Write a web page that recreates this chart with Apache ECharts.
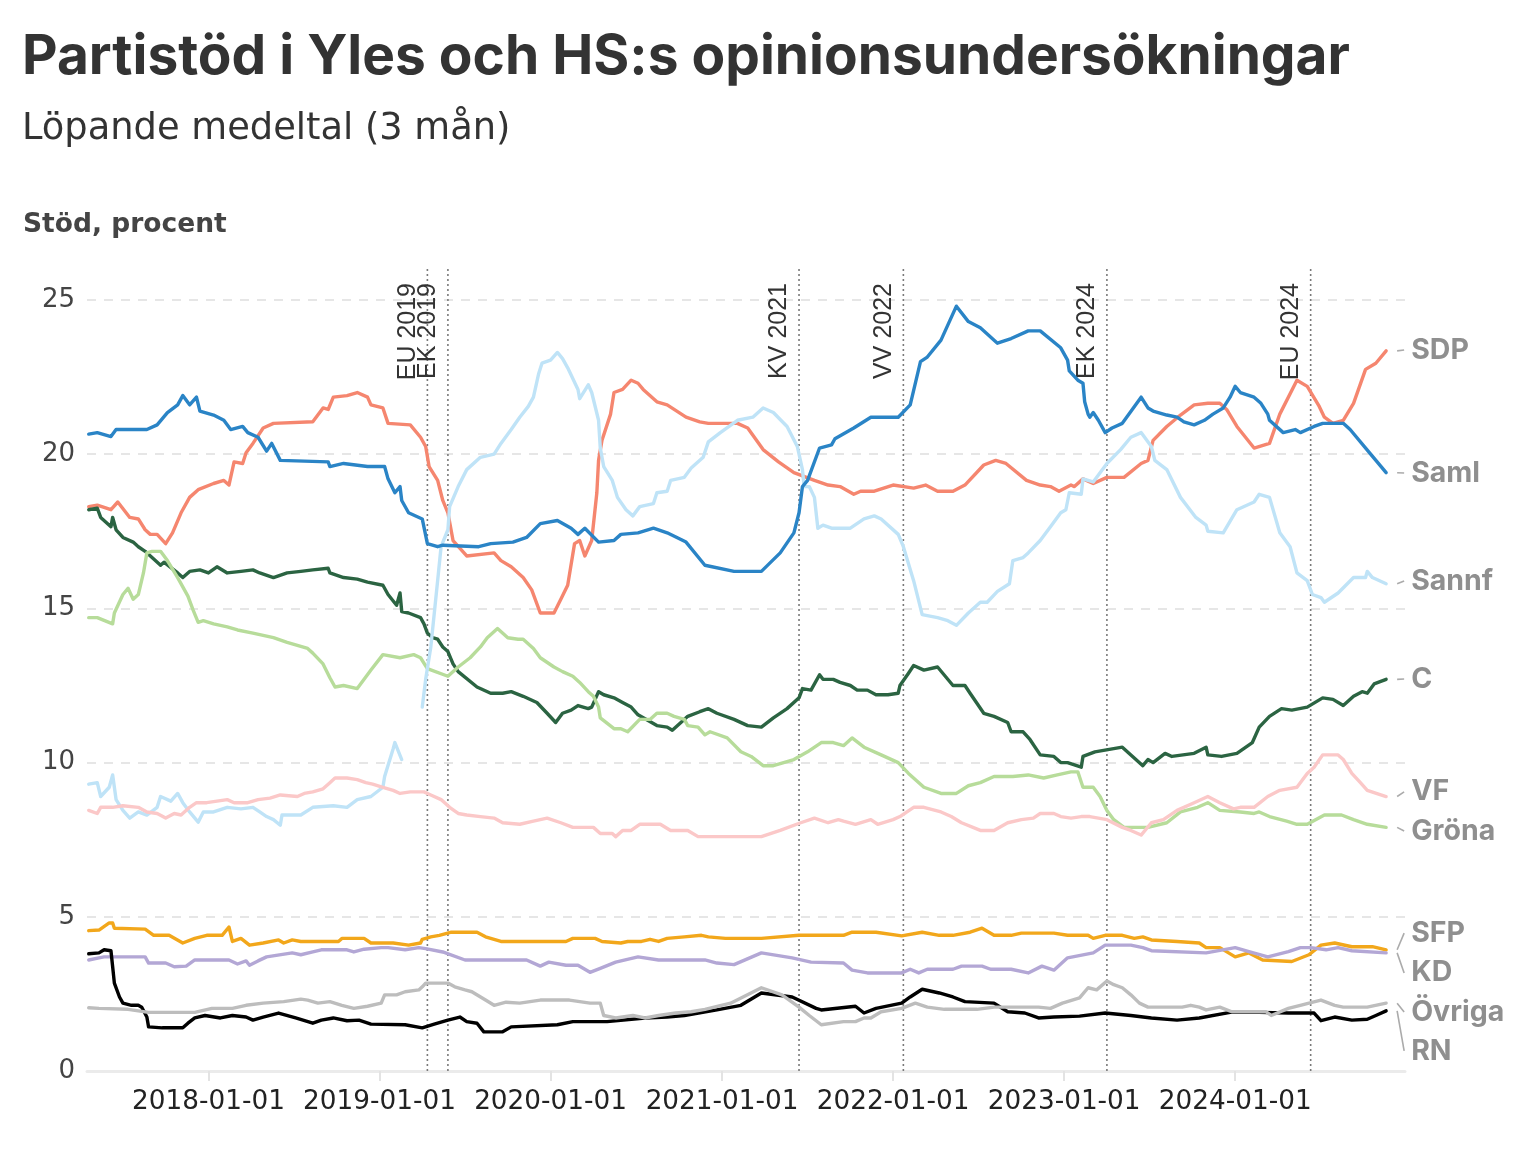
<!DOCTYPE html>
<html><head><meta charset="utf-8">
<script src="https://cdn.jsdelivr.net/npm/echarts@6/dist/echarts.min.js"></script>
<style>html,body{margin:0;padding:0;background:#fff}#chart{width:1532px;height:1150px}</style>
</head><body><div id="chart"></div>
<script>
// ---- data: [decimal year, percent] ----
const partyNames = ['SDP','Saml','Sannf','C','VF','Gröna','SFP','KD','Övriga','RN'];
const partyColors = ['#f5866f','#2a84c6','#bfe3f7','#2b6442','#fbc8c8','#b7dc9a','#f2a71b','#b3a7d5','#bdbdbd','#000000'];
const labelValues = [23.38,19.39,15.89,12.71,9.05,7.78,4.47,3.18,1.91,0.65];

const sdp = [[2017.30,18.3],[2017.35,18.35],[2017.43,18.2],[2017.47,18.45],[2017.54,17.95],[2017.59,17.9],[2017.63,17.55],[2017.66,17.4],[2017.70,17.4],[2017.75,17.1],[2017.79,17.45],[2017.84,18.1],[2017.89,18.6],[2017.94,18.85],[2018.03,19.05],[2018.09,19.15],[2018.12,19.0],[2018.15,19.75],[2018.20,19.7],[2018.22,20.05],[2018.26,20.35],[2018.32,20.85],[2018.38,21.0],[2018.61,21.05],[2018.67,21.5],[2018.70,21.45],[2018.73,21.85],[2018.81,21.9],[2018.87,22.0],[2018.93,21.85],[2018.95,21.6],[2019.02,21.5],[2019.05,21.0],[2019.18,20.95],[2019.24,20.55],[2019.27,20.25],[2019.29,19.6],[2019.34,19.15],[2019.37,18.5],[2019.40,18.1],[2019.43,17.2],[2019.51,16.7],[2019.67,16.8],[2019.71,16.55],[2019.77,16.35],[2019.84,16.0],[2019.89,15.6],[2019.94,14.85],[2020.02,14.85],[2020.06,15.3],[2020.10,15.75],[2020.14,17.1],[2020.17,17.2],[2020.20,16.7],[2020.24,17.2],[2020.27,18.75],[2020.28,19.8],[2020.30,20.45],[2020.35,21.3],[2020.37,22.0],[2020.42,22.1],[2020.47,22.4],[2020.51,22.3],[2020.54,22.1],[2020.62,21.7],[2020.68,21.6],[2020.79,21.2],[2020.87,21.05],[2020.92,21.0],[2021.09,21.0],[2021.15,20.85],[2021.24,20.15],[2021.33,19.75],[2021.42,19.4],[2021.54,19.15],[2021.62,19.0],[2021.69,18.95],[2021.77,18.7],[2021.81,18.8],[2021.89,18.8],[2022.00,19.0],[2022.12,18.9],[2022.19,19.0],[2022.26,18.8],[2022.35,18.8],[2022.42,19.0],[2022.53,19.65],[2022.60,19.8],[2022.66,19.7],[2022.78,19.15],[2022.86,19.0],[2022.92,18.95],[2022.97,18.8],[2023.04,19.0],[2023.06,18.95],[2023.11,19.2],[2023.17,19.05],[2023.25,19.25],[2023.35,19.25],[2023.45,19.7],[2023.49,19.8],[2023.52,20.45],[2023.60,20.9],[2023.68,21.27],[2023.76,21.6],[2023.84,21.65],[2023.91,21.65],[2023.95,21.45],[2024.01,20.9],[2024.11,20.2],[2024.20,20.35],[2024.26,21.3],[2024.36,22.4],[2024.42,22.2],[2024.49,21.55],[2024.52,21.2],[2024.57,21.0],[2024.63,21.1],[2024.69,21.65],[2024.76,22.75],[2024.82,22.95],[2024.88,23.35]];

const saml = [[2017.30,20.65],[2017.35,20.7],[2017.43,20.57],[2017.46,20.8],[2017.64,20.8],[2017.70,20.95],[2017.76,21.35],[2017.82,21.6],[2017.85,21.9],[2017.89,21.6],[2017.93,21.85],[2017.95,21.4],[2018.03,21.27],[2018.09,21.1],[2018.13,20.8],[2018.20,20.9],[2018.23,20.7],[2018.29,20.55],[2018.34,20.1],[2018.37,20.35],[2018.42,19.8],[2018.70,19.75],[2018.71,19.6],[2018.79,19.7],[2018.93,19.6],[2019.03,19.6],[2019.05,19.2],[2019.09,18.75],[2019.12,18.95],[2019.13,18.5],[2019.17,18.1],[2019.25,17.9],[2019.28,17.1],[2019.34,17.0],[2019.37,17.05],[2019.58,17.0],[2019.65,17.1],[2019.78,17.15],[2019.86,17.3],[2019.94,17.75],[2020.04,17.85],[2020.12,17.6],[2020.16,17.4],[2020.20,17.6],[2020.28,17.15],[2020.37,17.2],[2020.41,17.4],[2020.51,17.45],[2020.60,17.6],[2020.68,17.45],[2020.79,17.15],[2020.90,16.4],[2021.07,16.2],[2021.23,16.2],[2021.34,16.8],[2021.42,17.45],[2021.45,18.1],[2021.47,18.95],[2021.50,19.15],[2021.57,20.2],[2021.64,20.3],[2021.66,20.5],[2021.77,20.85],[2021.87,21.2],[2022.03,21.2],[2022.10,21.6],[2022.16,23.0],[2022.20,23.15],[2022.28,23.7],[2022.37,24.8],[2022.44,24.3],[2022.51,24.1],[2022.61,23.6],[2022.69,23.75],[2022.79,24.0],[2022.86,24.0],[2022.98,23.45],[2023.02,23.05],[2023.03,22.7],[2023.08,22.4],[2023.11,22.3],[2023.12,21.7],[2023.14,21.3],[2023.15,21.2],[2023.17,21.35],[2023.20,21.1],[2023.24,20.7],[2023.28,20.85],[2023.34,21.0],[2023.45,21.85],[2023.49,21.5],[2023.52,21.4],[2023.60,21.27],[2023.66,21.2],[2023.70,21.05],[2023.76,20.95],[2023.82,21.1],[2023.87,21.3],[2023.93,21.5],[2023.97,21.85],[2024.00,22.2],[2024.03,22.0],[2024.11,21.85],[2024.15,21.65],[2024.19,21.3],[2024.20,21.1],[2024.28,20.7],[2024.35,20.8],[2024.38,20.7],[2024.46,20.9],[2024.51,21.0],[2024.63,21.0],[2024.67,20.8],[2024.78,20.07],[2024.88,19.4]];

const sannf = [[2017.30,9.3],[2017.35,9.35],[2017.37,8.9],[2017.42,9.2],[2017.44,9.6],[2017.46,8.8],[2017.50,8.45],[2017.54,8.2],[2017.59,8.4],[2017.64,8.3],[2017.70,8.55],[2017.72,8.9],[2017.78,8.75],[2017.82,9.0],[2017.85,8.7],[2017.89,8.4],[2017.94,8.07],[2017.97,8.4],[2018.03,8.4],[2018.11,8.55],[2018.19,8.5],[2018.26,8.55],[2018.30,8.4],[2018.34,8.25],[2018.38,8.15],[2018.42,7.97],[2018.43,8.3],[2018.54,8.3],[2018.61,8.55],[2018.73,8.6],[2018.81,8.55],[2018.87,8.8],[2018.95,8.9],[2019.02,9.2],[2019.03,9.55],[2019.08,10.45],[2019.09,10.65],[2019.13,10.1],[2019.19,null],[2019.25,11.8],[2019.27,12.7],[2019.30,13.75],[2019.34,15.9],[2019.36,17.0],[2019.40,17.55],[2019.41,18.3],[2019.46,18.95],[2019.51,19.5],[2019.59,19.9],[2019.67,20.0],[2019.71,20.35],[2019.77,20.8],[2019.82,21.2],[2019.87,21.55],[2019.90,21.85],[2019.93,22.6],[2019.95,22.95],[2020.00,23.05],[2020.04,23.3],[2020.07,23.1],[2020.10,22.8],[2020.16,22.1],[2020.17,21.8],[2020.22,22.25],[2020.24,22.0],[2020.28,21.1],[2020.29,20.2],[2020.31,19.6],[2020.36,19.15],[2020.39,18.6],[2020.44,18.2],[2020.48,18.0],[2020.52,18.3],[2020.60,18.4],[2020.62,18.75],[2020.68,18.8],[2020.70,19.15],[2020.78,19.25],[2020.82,19.55],[2020.89,19.9],[2020.92,20.4],[2020.99,20.7],[2021.09,21.1],[2021.18,21.2],[2021.24,21.5],[2021.30,21.35],[2021.38,20.9],[2021.44,20.25],[2021.47,19.5],[2021.48,18.95],[2021.51,18.95],[2021.54,18.6],[2021.56,17.6],[2021.59,17.7],[2021.64,17.6],[2021.75,17.6],[2021.83,17.9],[2021.89,18.0],[2021.93,17.9],[2022.03,17.4],[2022.06,17.0],[2022.12,15.9],[2022.17,14.8],[2022.26,14.7],[2022.32,14.6],[2022.37,14.45],[2022.44,14.85],[2022.51,15.2],[2022.55,15.2],[2022.61,15.55],[2022.68,15.8],[2022.70,16.55],[2022.76,16.65],[2022.79,16.8],[2022.86,17.2],[2022.92,17.65],[2022.98,18.1],[2023.01,18.2],[2023.03,18.75],[2023.10,18.7],[2023.11,19.2],[2023.17,19.1],[2023.25,19.7],[2023.33,20.15],[2023.39,20.55],[2023.45,20.7],[2023.51,20.25],[2023.53,19.8],[2023.60,19.5],[2023.68,18.6],[2023.77,17.95],[2023.83,17.7],[2023.84,17.5],[2023.93,17.45],[2024.01,18.2],[2024.11,18.45],[2024.14,18.7],[2024.20,18.6],[2024.26,17.45],[2024.32,17.0],[2024.36,16.15],[2024.42,15.9],[2024.45,15.45],[2024.50,15.35],[2024.52,15.2],[2024.60,15.5],[2024.69,16.0],[2024.76,16.0],[2024.77,16.2],[2024.80,16.0],[2024.88,15.8]];

const centern = [[2017.30,18.2],[2017.35,18.25],[2017.37,17.95],[2017.43,17.65],[2017.44,17.95],[2017.46,17.55],[2017.50,17.3],[2017.56,17.15],[2017.59,17.0],[2017.63,16.85],[2017.68,16.6],[2017.72,16.4],[2017.74,16.5],[2017.82,16.15],[2017.85,16.0],[2017.89,16.2],[2017.95,16.25],[2018.00,16.15],[2018.05,16.35],[2018.11,16.15],[2018.19,16.2],[2018.26,16.25],[2018.30,16.15],[2018.38,16.0],[2018.46,16.15],[2018.54,16.2],[2018.61,16.25],[2018.70,16.3],[2018.71,16.15],[2018.79,16.0],[2018.87,15.95],[2018.93,15.85],[2019.02,15.75],[2019.05,15.45],[2019.10,15.1],[2019.12,15.5],[2019.13,14.9],[2019.17,14.85],[2019.24,14.7],[2019.26,14.5],[2019.28,14.2],[2019.31,14.05],[2019.34,14.0],[2019.37,13.75],[2019.40,13.6],[2019.43,13.2],[2019.46,12.95],[2019.57,12.45],[2019.65,12.25],[2019.72,12.25],[2019.77,12.3],[2019.84,12.15],[2019.92,11.95],[2019.98,11.6],[2020.03,11.3],[2020.07,11.6],[2020.12,11.7],[2020.16,11.85],[2020.22,11.75],[2020.24,11.8],[2020.28,12.3],[2020.31,12.2],[2020.37,12.1],[2020.42,11.95],[2020.47,11.8],[2020.51,11.55],[2020.62,11.2],[2020.68,11.15],[2020.71,11.05],[2020.76,11.3],[2020.80,11.5],[2020.87,11.65],[2020.92,11.75],[2020.97,11.6],[2021.07,11.4],[2021.15,11.2],[2021.23,11.15],[2021.30,11.45],[2021.38,11.75],[2021.45,12.1],[2021.47,12.4],[2021.52,12.35],[2021.57,12.85],[2021.59,12.7],[2021.65,12.7],[2021.69,12.6],[2021.75,12.5],[2021.79,12.35],[2021.85,12.35],[2021.90,12.2],[2021.97,12.2],[2022.03,12.25],[2022.04,12.5],[2022.09,12.9],[2022.12,13.15],[2022.18,13.0],[2022.26,13.1],[2022.35,12.5],[2022.42,12.5],[2022.45,12.25],[2022.53,11.6],[2022.59,11.5],[2022.67,11.3],[2022.69,11.0],[2022.76,11.0],[2022.80,10.75],[2022.86,10.25],[2022.94,10.2],[2022.98,10.0],[2023.02,10.0],[2023.10,9.85],[2023.11,10.2],[2023.18,10.35],[2023.34,10.5],[2023.40,10.2],[2023.46,9.9],[2023.49,10.1],[2023.52,10.0],[2023.59,10.3],[2023.63,10.2],[2023.76,10.3],[2023.83,10.5],[2023.84,10.25],[2023.92,10.2],[2024.01,10.3],[2024.10,10.65],[2024.14,11.15],[2024.20,11.5],[2024.27,11.75],[2024.33,11.7],[2024.42,11.8],[2024.51,12.1],[2024.57,12.05],[2024.63,11.85],[2024.69,12.15],[2024.74,12.3],[2024.77,12.25],[2024.81,12.55],[2024.88,12.7]];

const vf = [[2017.30,8.45],[2017.35,8.35],[2017.37,8.55],[2017.44,8.55],[2017.50,8.6],[2017.59,8.55],[2017.64,8.4],[2017.70,8.35],[2017.75,8.2],[2017.80,8.35],[2017.84,8.3],[2017.89,8.55],[2017.93,8.7],[2017.99,8.7],[2018.11,8.8],[2018.15,8.7],[2018.23,8.7],[2018.29,8.8],[2018.36,8.85],[2018.42,8.95],[2018.52,8.9],[2018.56,9.0],[2018.61,9.05],[2018.67,9.15],[2018.71,9.35],[2018.74,9.5],[2018.81,9.5],[2018.87,9.45],[2018.92,9.35],[2018.96,9.3],[2019.02,9.2],[2019.08,9.1],[2019.12,9.0],[2019.18,9.05],[2019.26,9.05],[2019.30,8.95],[2019.36,8.8],[2019.41,8.55],[2019.46,8.35],[2019.51,8.3],[2019.59,8.25],[2019.67,8.2],[2019.72,8.05],[2019.82,8.0],[2019.90,8.1],[2019.98,8.2],[2020.06,8.05],[2020.13,7.9],[2020.22,7.9],[2020.25,7.9],[2020.29,7.7],[2020.36,7.7],[2020.38,7.6],[2020.42,7.8],[2020.47,7.8],[2020.52,8.0],[2020.64,8.0],[2020.70,7.8],[2020.80,7.8],[2020.86,7.6],[2021.23,7.6],[2021.34,7.8],[2021.46,8.05],[2021.54,8.2],[2021.62,8.05],[2021.68,8.15],[2021.71,8.1],[2021.78,8.0],[2021.87,8.15],[2021.91,8.0],[2022.00,8.15],[2022.04,8.25],[2022.12,8.55],[2022.18,8.55],[2022.28,8.4],[2022.34,8.25],[2022.40,8.05],[2022.51,7.8],[2022.59,7.8],[2022.67,8.05],[2022.75,8.15],[2022.82,8.2],[2022.86,8.35],[2022.94,8.35],[2022.98,8.25],[2023.04,8.2],[2023.10,8.25],[2023.15,8.25],[2023.25,8.15],[2023.34,7.9],[2023.39,7.8],[2023.45,7.65],[2023.51,8.05],[2023.58,8.15],[2023.66,8.45],[2023.76,8.7],[2023.84,8.9],[2023.91,8.7],[2023.99,8.5],[2024.03,8.55],[2024.11,8.55],[2024.19,8.9],[2024.26,9.1],[2024.36,9.2],[2024.42,9.65],[2024.46,9.85],[2024.51,10.25],[2024.60,10.25],[2024.63,10.1],[2024.68,9.65],[2024.73,9.35],[2024.77,9.1],[2024.88,8.9]];

const grona = [[2017.30,14.7],[2017.35,14.7],[2017.44,14.5],[2017.45,14.85],[2017.50,15.45],[2017.53,15.65],[2017.56,15.3],[2017.59,15.45],[2017.62,16.15],[2017.64,16.8],[2017.67,16.85],[2017.72,16.85],[2017.76,16.55],[2017.82,16.0],[2017.88,15.4],[2017.91,14.95],[2017.94,14.55],[2017.97,14.6],[2018.03,14.5],[2018.11,14.4],[2018.17,14.3],[2018.26,14.2],[2018.38,14.05],[2018.46,13.9],[2018.58,13.7],[2018.61,13.55],[2018.67,13.2],[2018.71,12.75],[2018.74,12.45],[2018.79,12.5],[2018.87,12.4],[2018.91,12.7],[2018.95,13.0],[2019.02,13.5],[2019.12,13.4],[2019.20,13.5],[2019.24,13.4],[2019.28,13.05],[2019.40,12.8],[2019.46,13.1],[2019.53,13.4],[2019.59,13.75],[2019.63,14.05],[2019.69,14.35],[2019.75,14.05],[2019.81,14.0],[2019.84,14.0],[2019.90,13.7],[2019.94,13.4],[2020.02,13.1],[2020.07,12.95],[2020.13,12.8],[2020.17,12.6],[2020.22,12.3],[2020.25,12.15],[2020.28,11.8],[2020.29,11.45],[2020.37,11.1],[2020.41,11.1],[2020.45,11.0],[2020.52,11.4],[2020.58,11.4],[2020.62,11.6],[2020.68,11.6],[2020.72,11.5],[2020.78,11.4],[2020.80,11.2],[2020.86,11.15],[2020.90,10.9],[2020.93,11.0],[2021.03,10.8],[2021.11,10.35],[2021.17,10.2],[2021.24,9.9],[2021.30,9.9],[2021.42,10.1],[2021.50,10.35],[2021.58,10.65],[2021.65,10.65],[2021.71,10.55],[2021.76,10.8],[2021.83,10.5],[2021.93,10.25],[2022.03,10.0],[2022.09,9.65],[2022.18,9.2],[2022.28,9.0],[2022.37,9.0],[2022.44,9.25],[2022.51,9.35],[2022.59,9.55],[2022.70,9.55],[2022.79,9.6],[2022.88,9.5],[2022.96,9.6],[2023.04,9.7],[2023.08,9.7],[2023.11,9.2],[2023.17,9.2],[2023.21,8.9],[2023.25,8.45],[2023.29,8.15],[2023.35,7.9],[2023.49,7.9],[2023.60,8.05],[2023.68,8.4],[2023.78,8.55],[2023.84,8.7],[2023.91,8.45],[2024.03,8.4],[2024.11,8.35],[2024.14,8.4],[2024.20,8.25],[2024.30,8.1],[2024.36,8.0],[2024.42,8.0],[2024.52,8.3],[2024.62,8.3],[2024.69,8.15],[2024.77,8.0],[2024.88,7.9]];

const sfp = [[2017.30,4.55],[2017.36,4.57],[2017.42,4.8],[2017.44,4.8],[2017.45,4.63],[2017.63,4.6],[2017.68,4.4],[2017.77,4.4],[2017.85,4.15],[2017.92,4.3],[2017.99,4.4],[2018.08,4.4],[2018.12,4.67],[2018.14,4.2],[2018.19,4.3],[2018.24,4.08],[2018.32,4.15],[2018.41,4.25],[2018.44,4.15],[2018.49,4.25],[2018.54,4.2],[2018.76,4.2],[2018.78,4.3],[2018.91,4.3],[2018.95,4.15],[2019.08,4.15],[2019.17,4.08],[2019.24,4.15],[2019.25,4.27],[2019.30,4.35],[2019.35,4.4],[2019.42,4.5],[2019.57,4.5],[2019.62,4.35],[2019.71,4.2],[2020.09,4.2],[2020.13,4.3],[2020.26,4.3],[2020.30,4.2],[2020.41,4.15],[2020.45,4.2],[2020.53,4.2],[2020.58,4.27],[2020.63,4.2],[2020.68,4.3],[2020.78,4.35],[2020.88,4.4],[2020.92,4.35],[2021.02,4.3],[2021.23,4.3],[2021.45,4.4],[2021.71,4.4],[2021.76,4.5],[2021.90,4.5],[2022.05,4.38],[2022.17,4.5],[2022.27,4.4],[2022.35,4.4],[2022.45,4.5],[2022.52,4.63],[2022.59,4.4],[2022.69,4.4],[2022.75,4.47],[2022.94,4.47],[2023.02,4.4],[2023.14,4.4],[2023.17,4.3],[2023.24,4.4],[2023.34,4.4],[2023.41,4.3],[2023.46,4.35],[2023.51,4.25],[2023.66,4.2],[2023.79,4.15],[2023.83,4.0],[2023.91,4.0],[2024.00,3.7],[2024.08,3.83],[2024.16,3.6],[2024.33,3.55],[2024.43,3.77],[2024.50,4.08],[2024.58,4.15],[2024.68,4.03],[2024.80,4.03],[2024.88,3.93]];

const kd = [[2017.30,3.6],[2017.36,3.67],[2017.39,3.7],[2017.63,3.7],[2017.65,3.5],[2017.75,3.5],[2017.80,3.38],[2017.87,3.4],[2017.92,3.6],[2018.12,3.6],[2018.17,3.47],[2018.22,3.57],[2018.24,3.43],[2018.29,3.57],[2018.34,3.7],[2018.49,3.83],[2018.54,3.77],[2018.61,3.86],[2018.66,3.93],[2018.81,3.93],[2018.85,3.86],[2018.91,3.95],[2019.01,4.0],[2019.05,4.0],[2019.15,3.93],[2019.23,4.0],[2019.27,3.97],[2019.37,3.86],[2019.50,3.6],[2019.86,3.6],[2019.94,3.4],[2019.99,3.53],[2020.09,3.43],[2020.16,3.43],[2020.23,3.2],[2020.29,3.33],[2020.38,3.53],[2020.51,3.7],[2020.63,3.6],[2020.90,3.6],[2020.97,3.5],[2021.07,3.45],[2021.23,3.83],[2021.41,3.67],[2021.52,3.53],[2021.71,3.5],[2021.76,3.27],[2021.85,3.18],[2022.05,3.18],[2022.10,3.3],[2022.15,3.18],[2022.20,3.3],[2022.35,3.3],[2022.40,3.4],[2022.52,3.4],[2022.57,3.3],[2022.69,3.3],[2022.79,3.18],[2022.87,3.4],[2022.94,3.27],[2023.02,3.67],[2023.17,3.83],[2023.24,4.08],[2023.39,4.08],[2023.46,4.0],[2023.51,3.9],[2023.83,3.83],[2024.00,4.0],[2024.08,3.87],[2024.19,3.7],[2024.31,3.87],[2024.38,4.0],[2024.44,4.0],[2024.53,3.93],[2024.60,4.0],[2024.68,3.9],[2024.88,3.83]];

const ovriga = [[2017.30,2.05],[2017.36,2.03],[2017.53,2.0],[2017.65,1.9],[2017.92,1.9],[2018.02,2.03],[2018.14,2.03],[2018.22,2.13],[2018.32,2.2],[2018.44,2.25],[2018.54,2.33],[2018.58,2.3],[2018.64,2.2],[2018.71,2.25],[2018.78,2.13],[2018.85,2.03],[2018.93,2.1],[2019.01,2.2],[2019.03,2.47],[2019.10,2.47],[2019.15,2.57],[2019.23,2.63],[2019.25,2.73],[2019.27,2.85],[2019.40,2.85],[2019.44,2.73],[2019.50,2.63],[2019.54,2.57],[2019.62,2.3],[2019.67,2.13],[2019.74,2.23],[2019.82,2.2],[2019.94,2.3],[2020.11,2.3],[2020.23,2.2],[2020.29,2.2],[2020.31,1.8],[2020.38,1.72],[2020.48,1.8],[2020.55,1.72],[2020.63,1.8],[2020.73,1.88],[2020.82,1.92],[2020.90,2.0],[2021.05,2.2],[2021.23,2.7],[2021.35,2.47],[2021.45,2.07],[2021.51,1.8],[2021.58,1.5],[2021.71,1.6],[2021.78,1.6],[2021.83,1.72],[2021.87,1.72],[2021.93,1.92],[2022.05,2.03],[2022.13,2.2],[2022.20,2.07],[2022.30,2.0],[2022.49,2.0],[2022.59,2.07],[2022.85,2.07],[2022.92,2.03],[2022.99,2.2],[2023.09,2.37],[2023.14,2.7],[2023.19,2.63],[2023.25,2.92],[2023.29,2.8],[2023.34,2.7],[2023.39,2.47],[2023.44,2.2],[2023.49,2.07],[2023.69,2.07],[2023.74,2.13],[2023.79,2.07],[2023.83,1.98],[2023.91,2.07],[2023.98,1.92],[2024.18,1.92],[2024.21,1.8],[2024.31,2.03],[2024.38,2.13],[2024.43,2.2],[2024.50,2.3],[2024.58,2.13],[2024.63,2.07],[2024.77,2.07],[2024.88,2.2]];

const rn = [[2017.30,3.8],[2017.36,3.83],[2017.39,3.93],[2017.43,3.9],[2017.44,3.38],[2017.45,2.85],[2017.48,2.4],[2017.50,2.2],[2017.55,2.13],[2017.59,2.13],[2017.61,2.07],[2017.64,1.75],[2017.65,1.43],[2017.73,1.4],[2017.85,1.4],[2017.88,1.55],[2017.92,1.72],[2017.98,1.8],[2018.07,1.72],[2018.14,1.8],[2018.22,1.75],[2018.26,1.65],[2018.32,1.75],[2018.41,1.88],[2018.51,1.72],[2018.61,1.55],[2018.66,1.65],[2018.73,1.72],[2018.81,1.63],[2018.88,1.65],[2018.95,1.52],[2019.15,1.5],[2019.25,1.4],[2019.32,1.52],[2019.40,1.65],[2019.47,1.75],[2019.51,1.6],[2019.57,1.55],[2019.61,1.27],[2019.72,1.27],[2019.77,1.43],[2020.04,1.5],[2020.13,1.6],[2020.33,1.6],[2020.55,1.72],[2020.68,1.75],[2020.78,1.8],[2020.97,1.98],[2021.11,2.13],[2021.23,2.53],[2021.41,2.4],[2021.55,2.03],[2021.58,1.98],[2021.78,2.1],[2021.83,1.88],[2021.90,2.03],[2022.05,2.2],[2022.10,2.4],[2022.17,2.65],[2022.27,2.53],[2022.35,2.4],[2022.42,2.25],[2022.59,2.2],[2022.67,1.92],[2022.77,1.88],[2022.85,1.72],[2022.94,1.75],[2023.09,1.78],[2023.24,1.88],[2023.39,1.8],[2023.51,1.72],[2023.66,1.65],[2023.79,1.72],[2023.97,1.9],[2024.14,1.9],[2024.31,1.88],[2024.46,1.88],[2024.50,1.63],[2024.58,1.75],[2024.68,1.65],[2024.77,1.68],[2024.82,1.8],[2024.88,1.95]];

const partyData = [sdp, saml, sannf, centern, vf, grona, sfp, kd, ovriga, rn];
// drawing order (bottom -> top)
const drawOrder = ['SDP','C','Gröna','SFP','KD','RN','Övriga','Sannf','VF','Saml'];

const eventDates = [2019.28, 2019.40, 2021.45, 2022.06, 2023.25, 2024.44];
const eventLabels = ['EU 2019', 'EK 2019', 'KV 2021', 'VV 2022', 'EK 2024', 'EU 2024'];

const xAxisRange = [2017.29, 2024.99];
const yTicks = [0, 5, 10, 15, 20, 25];

// ---- helpers ----
function toTs(y) {
  const Y = Math.floor(y);
  const a = Date.UTC(Y, 0, 1), b = Date.UTC(Y + 1, 0, 1);
  return a + (y - Y) * (b - a);
}
function pad(n){ return String(n).padStart(2,'0'); }

const chart = echarts.init(document.getElementById('chart'), null, {renderer: 'canvas'});

const lineSeries = drawOrder.map(function(name){
  const i = partyNames.indexOf(name);
  return {
    name: name, type: 'line', showSymbol: false, symbol: 'none',
    data: partyData[i].map(function(p){ return [toTs(p[0]), p[1] === null ? '-' : p[1]]; }),
    lineStyle: {width: 3.4, color: partyColors[i], cap: 'round', join: 'round'},
    itemStyle: {color: partyColors[i]},
    emphasis: {disabled: true}, silent: true, z: 3, animation: false
  };
});

const eventSeries = {
  type: 'custom', silent: true, z: 1, animation: false,
  data: eventDates.map(function(d){ return [toTs(d), 0]; }),
  encode: {x: 0, y: 1},
  renderItem: function(params, api){
    const p0 = api.coord([api.value(0), 0]);
    const p1 = api.coord([api.value(0), yTicks[yTicks.length-1]]);
    return {type: 'group', children: [
      {type: 'line', shape: {x1: p0[0], y1: p0[1], x2: p0[0], y2: p1[1] - 31},
       style: {stroke: '#7a7a7a', lineWidth: 1.6, lineDash: [2, 3]}},
      {type: 'text', x: p0[0] - 7, y: p1[1] - 17, rotation: Math.PI / 2,
       style: {text: eventLabels[params.dataIndex], fill: '#333', font: '25px "Liberation Sans", Arial, sans-serif',
               align: 'right', verticalAlign: 'bottom'}}
    ]};
  }
};

const endLabelSeries = {
  type: 'custom', silent: true, z: 2, animation: false,
  data: partyNames.map(function(n, i){ const arr = partyData[i]; const last = arr[arr.length-1]; return [toTs(last[0]), last[1], labelValues[i]]; }),
  encode: {x: 0, y: 1},
  renderItem: function(params, api){
    const pe = api.coord([api.value(0), api.value(1)]);
    const pl = api.coord([api.value(0), api.value(2)]);
    return {type: 'group', children: [
      {type: 'line', shape: {x1: pe[0] + 11, y1: pe[1], x2: pe[0] + 18, y2: pl[1]},
       style: {stroke: '#ababab', lineWidth: 1.6}},
      {type: 'text', x: pe[0] + 25, y: pl[1],
       style: {text: partyNames[params.dataIndex], fill: '#8f8f8f', font: 'bold 28.5px Inter, "Noto Sans", sans-serif',
               align: 'left', verticalAlign: 'middle'}}
    ]};
  }
};

chart.setOption({
  useUTC: true,
  animation: false,
  backgroundColor: '#ffffff',
  title: [
    {text: 'Partistöd i Yles och HS:s opinionsundersökningar', left: 17, top: 25,
     textStyle: {fontFamily: 'Inter', fontWeight: 'bold', fontSize: 55, color: '#333333'}},
    {text: 'Löpande medeltal (3 mån)', left: 17, top: 106,
     textStyle: {fontFamily: '"DejaVu Sans"', fontWeight: 'normal', fontSize: 36.8, color: '#333333'}},
    {text: 'Stöd, procent', left: 18, top: 207,
     textStyle: {fontFamily: '"DejaVu Sans"', fontWeight: 'bold', fontSize: 26.5, color: '#444444'}}
  ],
  grid: {left: 87, right: 127, top: 300, bottom: 79, containLabel: false, outerBoundsMode: 'none'},
  xAxis: {
    type: 'time', min: toTs(xAxisRange[0]), max: toTs(xAxisRange[1]),
    minInterval: 365 * 86400000, maxInterval: 366 * 86400000,
    axisLine: {show: true, lineStyle: {color: '#ebebeb', width: 3}},
    axisTick: {show: true, length: 10, lineStyle: {color: '#e3e3e3', width: 2}},
    splitLine: {show: false},
    axisLabel: {
      fontFamily: '"DejaVu Sans"', fontSize: 26.3, color: '#222', margin: 18, showMinLabel: false, showMaxLabel: false,
      formatter: function(v){ const d = new Date(v); return d.getUTCFullYear() + '-' + pad(d.getUTCMonth()+1) + '-' + pad(d.getUTCDate()); }
    }
  },
  yAxis: {
    type: 'value', min: yTicks[0], max: yTicks[yTicks.length-1], interval: 5,
    axisLine: {show: false}, axisTick: {show: false},
    splitLine: {show: true, lineStyle: {color: '#e6e6e6', width: 2, type: [9, 8]}},
    axisLabel: {fontFamily: '"DejaVu Sans"', fontSize: 26, color: '#444', margin: 12}
  },
  series: [eventSeries].concat(lineSeries).concat([endLabelSeries])
});
</script>
</body></html>
